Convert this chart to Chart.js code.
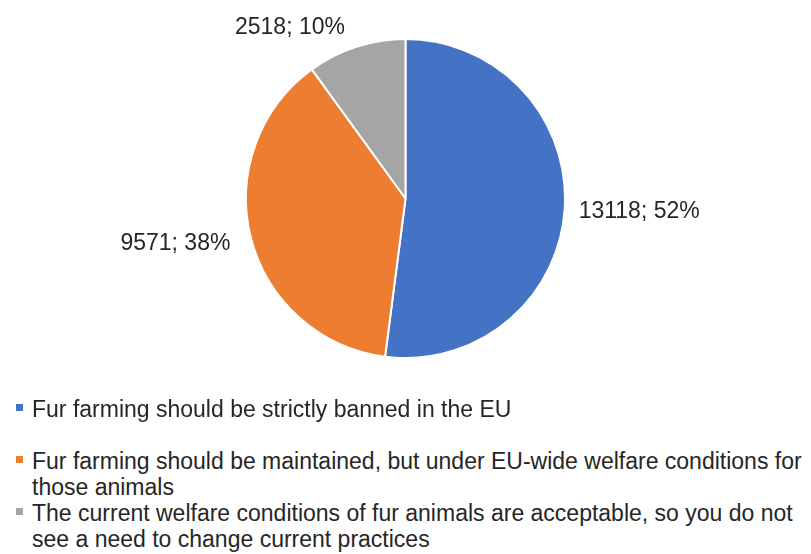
<!DOCTYPE html>
<html>
<head>
<meta charset="utf-8">
<script src="https://cdn.jsdelivr.net/npm/chart.js@4"></script>
<style>
  html, body { margin: 0; padding: 0; background: #ffffff; }
  #wrap { position: relative; width: 811px; height: 554px; overflow: hidden; }
  #chart { position: absolute; left: 0; top: 0; }
  .item { position: absolute; left: 0; width: 811px; font-family: "Liberation Sans", Arial, sans-serif;
          font-size: 23px; line-height: 26px; color: #262626; white-space: nowrap; }
  .item .txt { position: absolute; left: 32px; top: 0; width: 790px; }
  .item .sw { position: absolute; left: 16px; top: 8px; width: 7px; height: 7px; }
</style>
</head>
<body>
<div id="wrap">
  <canvas id="chart" width="811" height="400"></canvas>
  <div id="legend"></div>
</div>
<script>
const categories = [
  "Fur farming should be strictly banned in the EU",
  "Fur farming should be maintained, but under EU-wide welfare conditions for those animals",
  "The current welfare conditions of fur animals are acceptable, so you do not see a need to change current practices"
];
const legendLines = [
  ["Fur farming should be strictly banned in the EU"],
  ["Fur farming should be maintained, but under EU-wide welfare conditions for", "those animals"],
  ["The current welfare conditions of fur animals are acceptable, so you do not", "see a need to change current practices"]
];
const values = [13118, 9571, 2518];
const colors = ["#4472C4", "#ED7D31", "#A5A5A5"];

const total = values.reduce((a, b) => a + b, 0);

const labelPlugin = {
  id: "sliceLabels",
  afterDatasetsDraw(chart) {
    const ctx = chart.ctx;
    const meta = chart.getDatasetMeta(0);
    ctx.save();
    ctx.font = "23px 'Liberation Sans', Arial, sans-serif";
    ctx.fillStyle = "#262626";
    meta.data.forEach((arc, i) => {
      const mid = (arc.startAngle + arc.endAngle) / 2;
      const r = arc.outerRadius + 14;
      let x = arc.x + Math.cos(mid) * r;
      let y = arc.y + Math.sin(mid) * r;
      const txt = values[i] + "; " + Math.round(values[i] / total * 100) + "%";
      if (Math.cos(mid) >= 0) { ctx.textAlign = "left"; }
      else { ctx.textAlign = "right"; x -= 7; }
      if (Math.sin(mid) < -0.5) { ctx.textBaseline = "bottom"; y += 6; }
      else { ctx.textBaseline = "middle"; y += 2; }
      ctx.fillText(txt, x, y);
    });
    ctx.restore();
  }
};

new Chart(document.getElementById("chart"), {
  type: "pie",
  data: {
    labels: categories,
    datasets: [{
      data: values,
      backgroundColor: colors,
      borderColor: "#ffffff",
      borderWidth: 2
    }]
  },
  options: {
    responsive: false,
    devicePixelRatio: 1,
    animation: false,
    layout: { padding: { top: 38, bottom: 41, left: 0, right: 0 } },
    plugins: {
      legend: { display: false },
      tooltip: { enabled: false }
    }
  },
  plugins: [labelPlugin]
});

const legend = document.getElementById("legend");
const tops = [396, 448, 500];
legendLines.forEach((lines, i) => {
  const d = document.createElement("div");
  d.className = "item";
  d.style.top = tops[i] + "px";
  const sw = document.createElement("div");
  sw.className = "sw";
  sw.style.background = colors[i];
  const t = document.createElement("div");
  t.className = "txt";
  t.innerHTML = lines.join("<br>");
  d.appendChild(sw);
  d.appendChild(t);
  legend.appendChild(d);
});
</script>
</body>
</html>
